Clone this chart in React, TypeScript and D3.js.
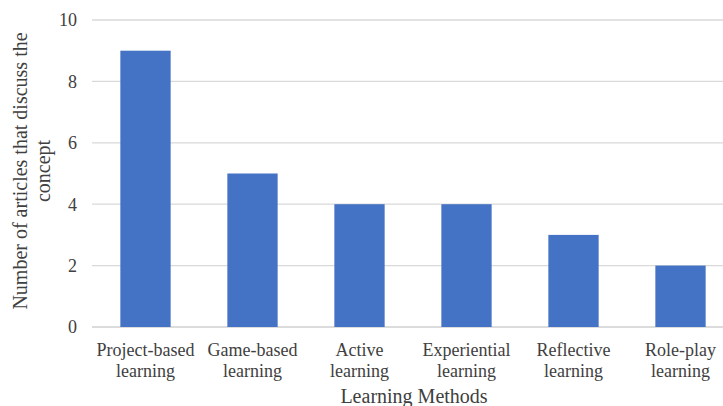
import React from "react";
import * as d3 from "d3";

const categories = [
  ["Project-based", "learning"],
  ["Game-based", "learning"],
  ["Active", "learning"],
  ["Experiential", "learning"],
  ["Reflective", "learning"],
  ["Role-play", "learning"],
];
const values = [9, 5, 4, 4, 3, 2];
const yTicks = [0, 2, 4, 6, 8, 10];

const W = 723;
const H = 406;

export default function App() {
  const x = d3
    .scaleBand<number>()
    .domain(d3.range(categories.length))
    .range([92, 734])
    .paddingInner(0.53)
    .paddingOuter(0.265);
  const y = d3.scaleLinear().domain([0, 10]).range([327, 20]);
  const font = "'Liberation Serif', 'Times New Roman', serif";
  const textColor = "#404040";
  return (
    <div style={{ position: "absolute", left: 0, top: 0 }}>
      <svg width={W} height={H} style={{ display: "block" }} fontFamily={font}>
        <rect width={W} height={H} fill="#fff" />
        {yTicks.map((t) => (
          <g key={t}>
            <line
              x1={92}
              x2={W}
              y1={y(t)}
              y2={y(t)}
              stroke={t === 0 ? "#d0d0d0" : "#d9d9d9"}
              strokeWidth={1.3}
            />
            <text
              x={77}
              y={y(t)}
              dy="0.35em"
              textAnchor="end"
              fontSize={18}
              fill={textColor}
            >
              {t}
            </text>
          </g>
        ))}
        {values.map((v, i) => (
          <rect
            key={i}
            x={x(i)}
            y={y(v)}
            width={x.bandwidth()}
            height={y(0) - y(v)}
            fill="#4472C4"
          />
        ))}
        {categories.map((c, i) => (
          <text
            key={i}
            x={(x(i) as number) + x.bandwidth() / 2}
            textAnchor="middle"
            fontSize={18}
            fill={textColor}
          >
            <tspan x={(x(i) as number) + x.bandwidth() / 2} y={356}>
              {c[0]}
            </tspan>
            <tspan x={(x(i) as number) + x.bandwidth() / 2} y={377}>
              {c[1]}
            </tspan>
          </text>
        ))}
        <text x={414} y={403} textAnchor="middle" fontSize={20} fill={textColor}>
          Learning Methods
        </text>
        <text
          transform="translate(0,171) rotate(-90)"
          textAnchor="middle"
          fontSize={20}
          fill={textColor}
        >
          <tspan x={0} y={27}>
            Number of articles that discuss the
          </tspan>
          <tspan x={0} y={50}>
            concept
          </tspan>
        </text>
      </svg>
    </div>
  );
}
